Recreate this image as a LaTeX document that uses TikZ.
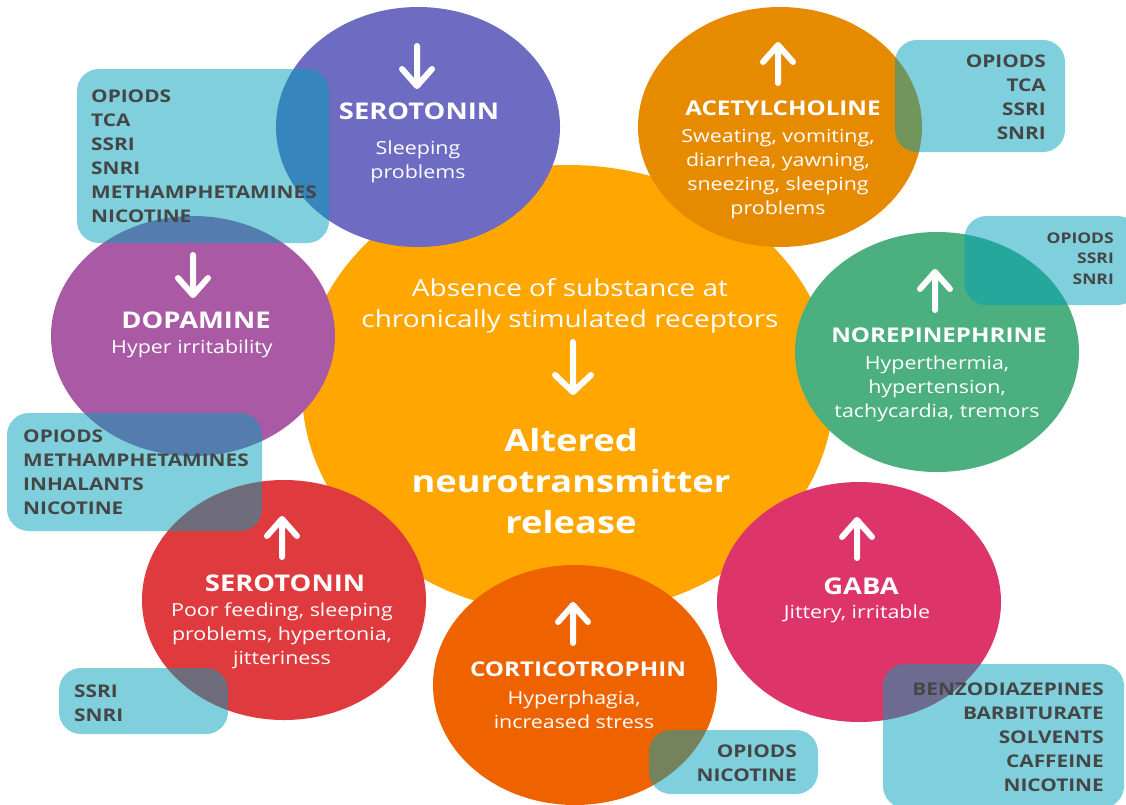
\documentclass[tikz,border=0pt]{standalone}
\usepackage{fontspec}
\setmainfont{Open Sans}[FakeStretch=1.19]
\usetikzlibrary{shapes.geometric}

\definecolor{centreorange}{RGB}{255,166,0}
\definecolor{serodown}{RGB}{110,107,194}
\definecolor{dopa}{RGB}{170,90,165}
\definecolor{acetyl}{RGB}{230,138,0}
\definecolor{norepi}{RGB}{76,175,128}
\definecolor{gaba}{RGB}{221,53,105}
\definecolor{cortico}{RGB}{238,99,0}
\definecolor{seroup}{RGB}{223,58,61}
\definecolor{drugteal}{RGB}{0,161,185}
\definecolor{drugtext}{RGB}{70,70,70}

\tikzset{
  bubble/.style={ellipse,minimum width=284pt,minimum height=240pt,inner sep=0pt},
  drugbox/.style={rectangle,rounded corners=22pt,fill=drugteal,fill opacity=0.5,inner sep=0pt},
  icon/.style={white,line width=6pt,line cap=round,line join=round},
  title/.style={text=white,inner sep=0pt,font=\bfseries\fontsize{23}{26}\selectfont},
  longtitle/.style={title,font=\bfseries\fontsize{20.3}{24}\selectfont},
  body/.style={text=white,inner sep=0pt,align=center,font=\fontsize{18}{24}\selectfont},
  drugs/.style={text=drugtext,inner sep=0pt,font=\bfseries\fontsize{17.5}{24}\selectfont}
}

\begin{document}
\begin{tikzpicture}[x=1pt,y=-1pt]
\useasboundingbox (0,0) rectangle (1126,804);

% circles
\node [bubble,fill=centreorange,minimum width=532pt,minimum height=450pt] (centre) at (568,390) {};
\node [bubble,fill=serodown] (serotop) at (418,127) {};
\node [bubble,fill=dopa] (dopamine) at (193,336) {};
\node [bubble,fill=acetyl] (acetyl) at (780,127) {};
\node [bubble,fill=norepi] (norepi) at (937,352) {};
\node [bubble,fill=seroup] (serobot) at (284,600) {};
\node [bubble,fill=cortico] (cortico) at (575,685) {};
\node [bubble,fill=gaba] (gaba) at (859,602) {};

% drug boxes
\node [drugbox,minimum width=252pt,minimum height=174pt] (boxsero) at (203,156) {};
\node [drugbox,minimum width=170pt,minimum height=112pt] (boxacetyl) at (980,96) {};
\node [drugbox,minimum width=175pt,minimum height=89pt] (boxnorepi) at (1052,260.5) {};
\node [drugbox,minimum width=255pt,minimum height=118pt] (boxdopa) at (134.5,472) {};
\node [drugbox,minimum width=169pt,minimum height=66pt] (boxserobot) at (143.5,701) {};
\node [drugbox,minimum width=169pt,minimum height=64pt] (boxcortico) at (733.5,762) {};
\node [drugbox,minimum width=241pt,minimum height=144pt] (boxgaba) at (1003.5,736) {};

% arrows
\foreach \x/\y in {417/46, 193/255}
  \draw[icon] (\x,\y) -- (\x,\y+40) (\x-15,\y+23) -- (\x,\y+40) -- (\x+15,\y+23);
\draw[icon] (573,342) -- (573,392) (555,375) -- (573,392) -- (591,375);
\foreach \x/\y in {778/45, 935/272, 282/519, 573/605, 857/520}
  \draw[icon] (\x,\y+38) -- (\x,\y) (\x-15,\y+17) -- (\x,\y) -- (\x+15,\y+17);

% texts
\node [title] (serotoptitle) at (419,111) {SEROTONIN};
\node [body] (serotoptext) at (418,162) {Sleeping\\problems};

\node [title] (dopatitle) at (196,320) {DOPAMINE};
\node [body] (dopatext) at (192,349) {Hyper irritability};

\node [longtitle] (acetyltitle) at (783,108) {ACETYLCHOLINE};
\node [body] (acetyltext) at (778,174) {Sweating, vomiting,\\diarrhea, yawning,\\sneezing, sleeping\\problems};

\node [longtitle] (norepititle) at (939,335) {NOREPINEPHRINE};
\node [body] (norepitext) at (937,389) {Hyperthermia,\\hypertension,\\tachycardia, tremors};

\node [text=white,align=center,inner sep=0pt,font=\fontsize{23.5}{31}\selectfont] (absence) at (570,305.5) {Absence of substance at\\chronically stimulated receptors};
\node [text=white,align=center,inner sep=0pt,font=\bfseries\fontsize{30.5}{41}\selectfont] (altered) at (571,481) {Altered\\neurotransmitter\\release};

\node [title] (serobottitle) at (285,583) {SEROTONIN};
\node [body] (serobottext) at (282,636) {Poor feeding, sleeping\\problems, hypertonia,\\jitteriness};

\node [longtitle] (corticotitle) at (578,669) {CORTICOTROPHIN};
\node [body] (corticotext) at (574,710) {Hyperphagia,\\increased stress};

\node [title] (gabatitle) at (861,586) {GABA};
\node [body] (gabatext) at (857,614) {Jittery, irritable};

% drug lists
\node [drugs,align=left,anchor=west] (listsero) at (91,156) {OPIODS\\TCA\\SSRI\\SNRI\\METHAMPHETAMINES\\NICOTINE};
\node [drugs,align=right,anchor=east] (listacetyl) at (1046,97.5) {OPIODS\\TCA\\SSRI\\SNRI};
\node [drugs,align=right,anchor=east,font=\bfseries\fontsize{14.7}{20.5}\selectfont] (listnorepi) at (1114,258.5) {OPIODS\\SSRI\\SNRI};
\node [drugs,align=left,anchor=west] (listdopa) at (23,472) {OPIODS\\METHAMPHETAMINES\\INHALANTS\\NICOTINE};
\node [drugs,align=left,anchor=west] (listserobot) at (74,703) {SSRI\\SNRI};
\node [drugs,align=right,anchor=east] (listcortico) at (797,763) {OPIODS\\NICOTINE};
\node [drugs,align=right,anchor=east] (listgaba) at (1104,737) {BENZODIAZEPINES\\BARBITURATE\\SOLVENTS\\CAFFEINE\\NICOTINE};

\end{tikzpicture}
\end{document}
